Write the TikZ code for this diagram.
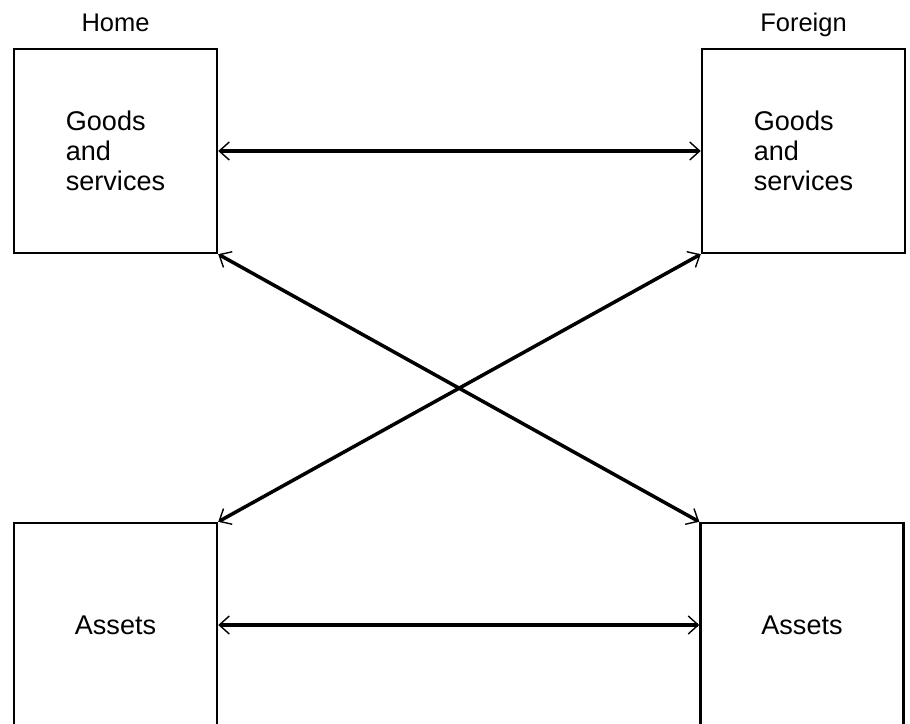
\documentclass[tikz,border=0pt]{standalone}
\usepackage{fontspec}
\setmainfont{Liberation Sans}
\usepackage{tikz}
\usetikzlibrary{arrows.meta,positioning}
\tikzset{
  >=Stealth,
  lbl/.style={font=\fontsize{14.5}{16}\selectfont, inner sep=0pt},
  flow/.style={{Straight Barb[length=2mm, width=3.6mm, line width=0.8pt]}-{Straight Barb[length=2mm, width=3.6mm, line width=0.8pt]}, line width=2pt}
}
\begin{document}
\begin{tikzpicture}[x=1.0cm, y=1.0cm,
        box/.style={draw, line width=1.4pt, minimum width=4.06cm, minimum height=4.08cm, align=left, font=\fontsize{15.4}{17}\selectfont}
    ]
    \useasboundingbox (0, 0) rectangle (18.2, 14.48);
    \clip (0, 0) rectangle (18.2, 14.48);
    % home side
    \node[box] (hg) at (2.31, 11.46) {Goods\\and\\services};
    \node[box] (ha) at (2.31, 1.98) {Assets};
    % foreign side
    \node[box] (fg) at (16.07, 11.46) {Goods\\and\\services};
    \node[box] (fa) at (16.04, 1.98) {Assets};
    \node[lbl, anchor=base] (home) at ([yshift=0.32cm]hg.north) {Home};
    \node[lbl, anchor=base] (foreign) at ([yshift=0.32cm]fg.north) {Foreign};
    \draw[flow] (hg) -- (fg);
    \draw[flow] (ha) -- (fa);
    \draw[flow] (hg.south east) -- (fa.north west);
    \draw[flow] (ha.north east) -- (fg.south west);
\end{tikzpicture}
\end{document}
